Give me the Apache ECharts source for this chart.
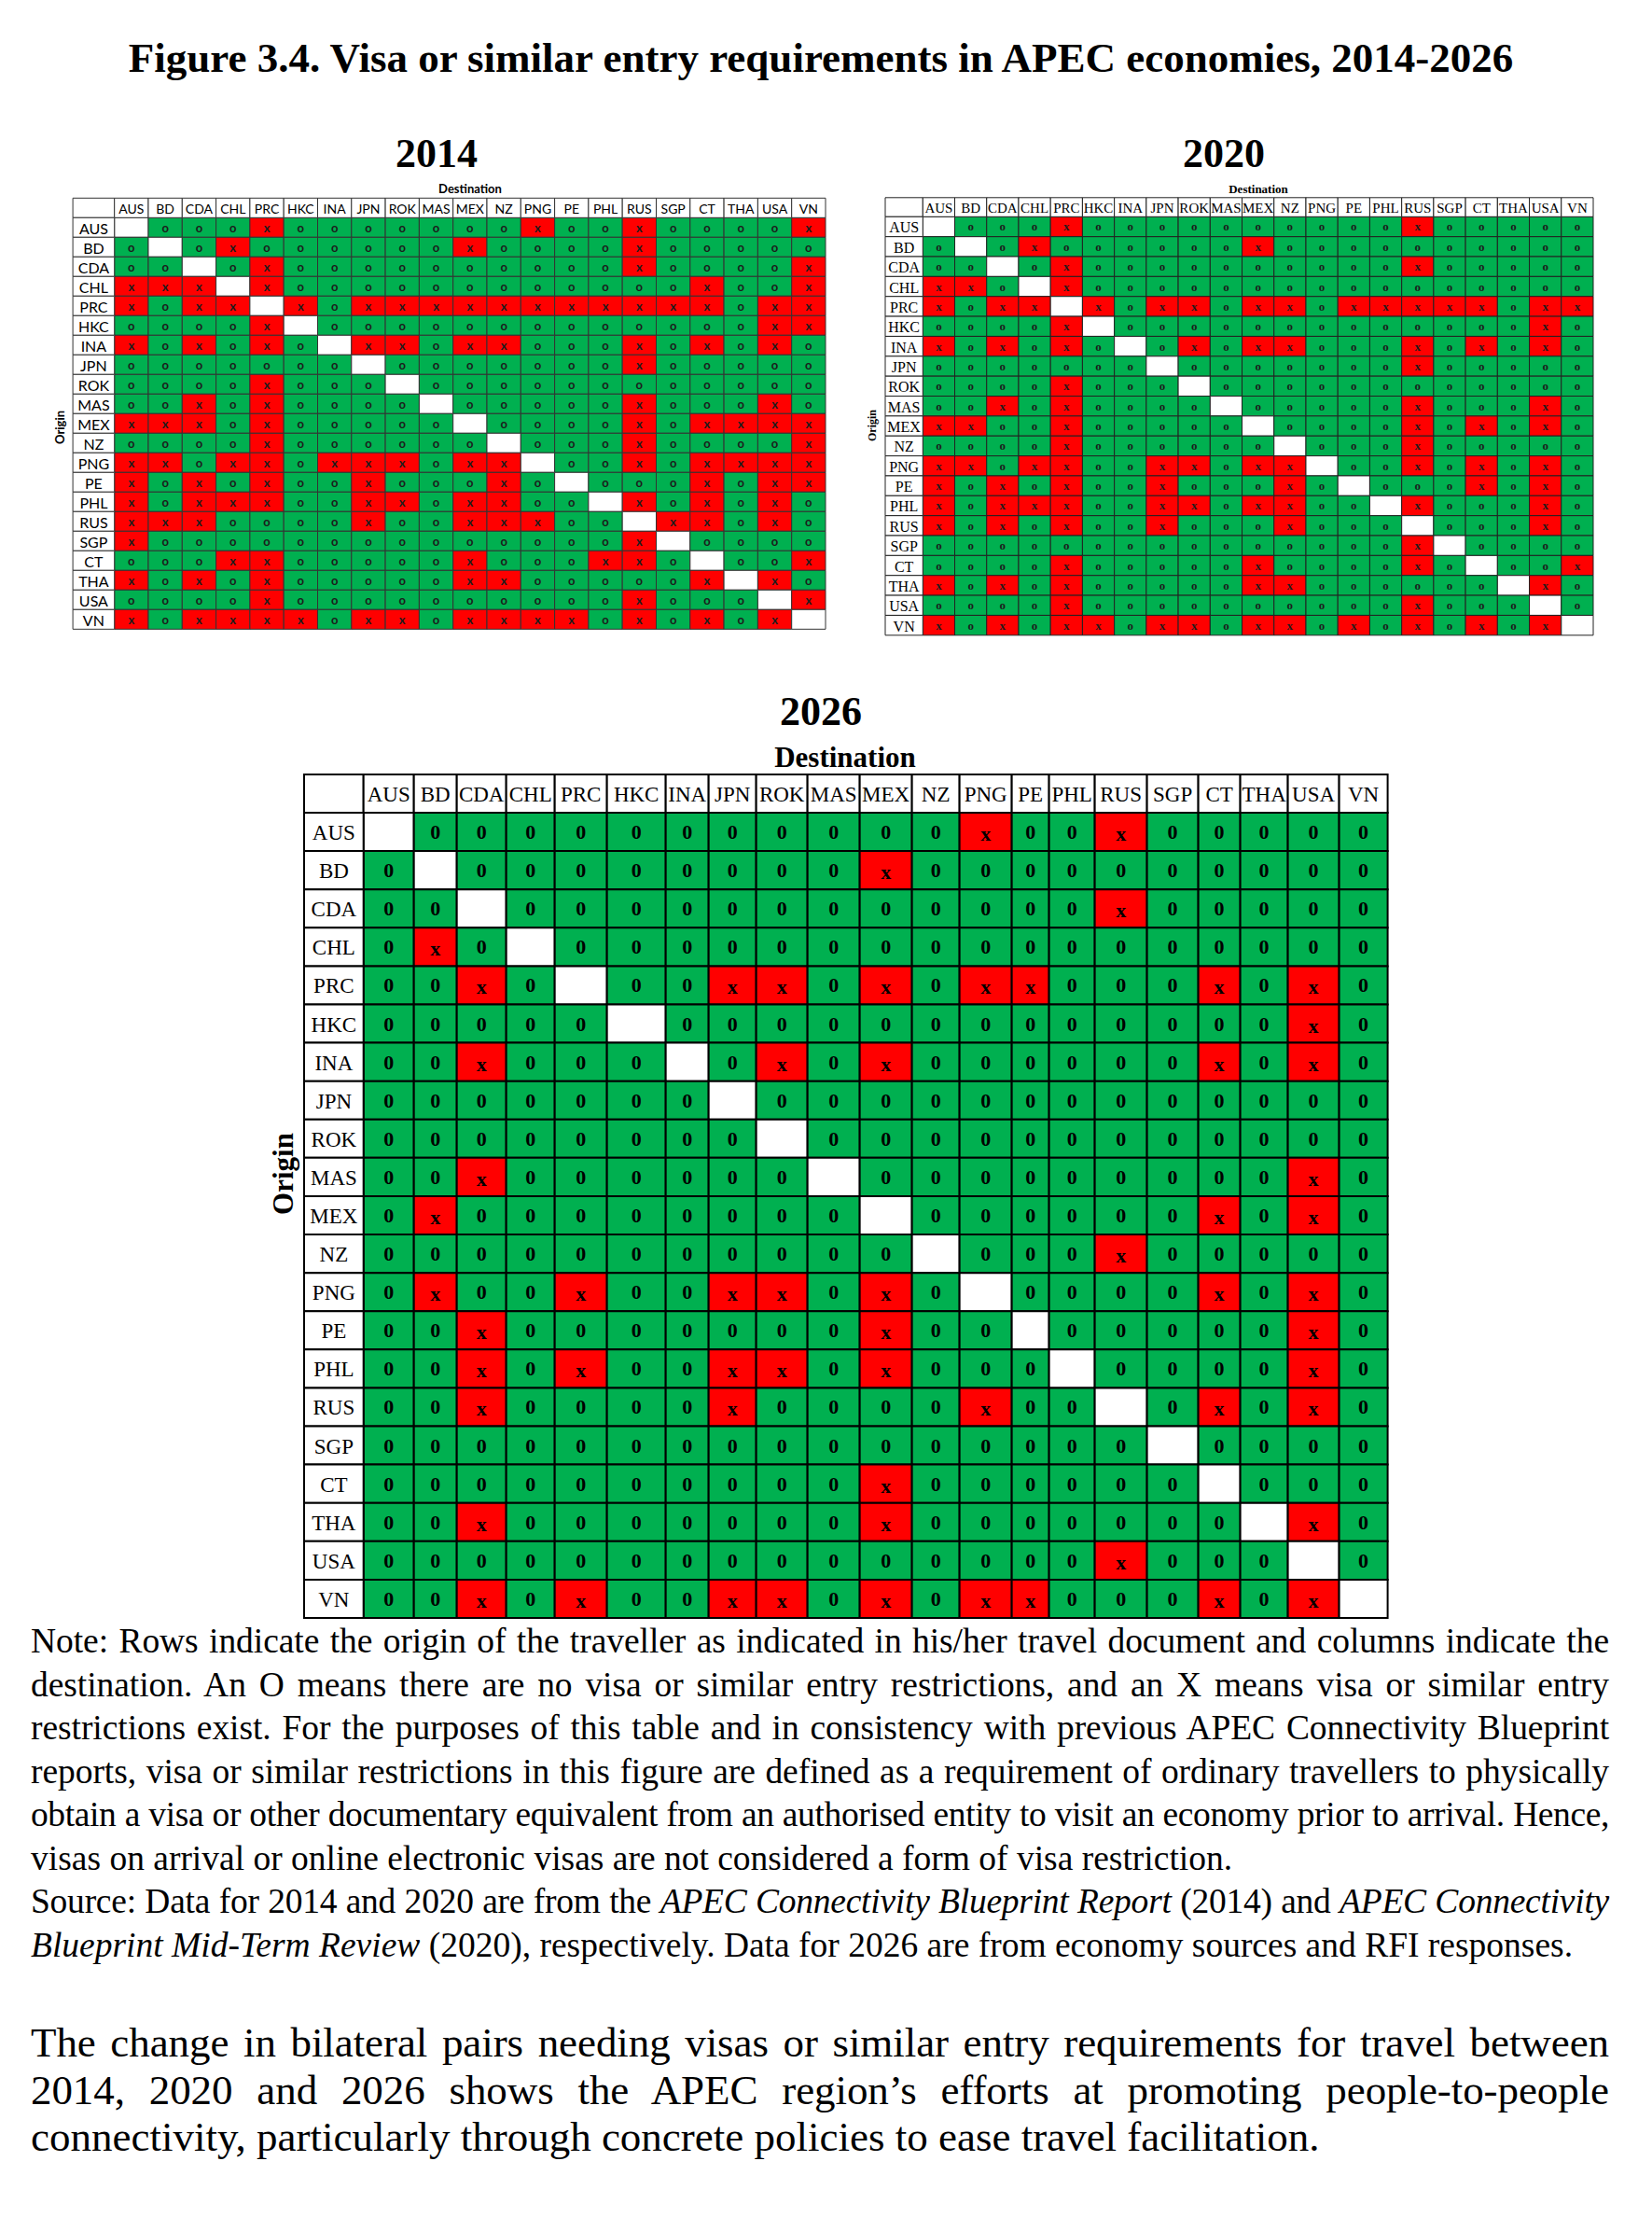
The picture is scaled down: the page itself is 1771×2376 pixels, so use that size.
<!DOCTYPE html>
<html>
<head>
<meta charset="utf-8">
<title>Figure 3.4. Visa or similar entry requirements in APEC economies, 2014-2026</title>
<script src="https://cdn.jsdelivr.net/npm/echarts@6.0.0/dist/echarts.min.js"></script>
<style>
  body { margin: 0; background: #fff; }
  #chart { position: absolute; left: 0; top: 0; width: 1771px; height: 1740px; }
  .para { position: absolute; left: 33px; width: 1692px; font-family: "Liberation Serif", "Times New Roman", serif; color: #000; }
  .para div { text-align: justify; text-align-last: justify; }
  .para div.last { text-align-last: left; }
</style>
</head>
<body>
<div id="chart"></div>

<div class="para" style="top:1736px; font-size:37.5px; line-height:46.5px;">
  <div>Note: Rows indicate the origin of the traveller as indicated in his/her travel document and columns indicate the</div>
  <div>destination. An O means there are no visa or similar entry restrictions, and an X means visa or similar entry</div>
  <div>restrictions exist. For the purposes of this table and in consistency with previous APEC Connectivity Blueprint</div>
  <div>reports, visa or similar restrictions in this figure are defined as a requirement of ordinary travellers to physically</div>
  <div>obtain a visa or other documentary equivalent from an authorised entity to visit an economy prior to arrival. Hence,</div>
  <div class="last">visas on arrival or online electronic visas are not considered a form of visa restriction.</div>
  <div>Source: Data for 2014 and 2020 are from the <i>APEC Connectivity Blueprint Report</i> (2014) and <i>APEC Connectivity</i></div>
  <div class="last"><i>Blueprint Mid-Term Review</i> (2020), respectively. Data for 2026 are from economy sources and RFI responses.</div>
</div>

<div class="para" style="top:2164px; font-size:45px; line-height:50.7px;">
  <div>The change in bilateral pairs needing visas or similar entry requirements for travel between</div>
  <div>2014, 2020 and 2026 shows the APEC region’s efforts at promoting people-to-people</div>
  <div class="last">connectivity, particularly through concrete policies to ease travel facilitation.</div>
</div>

<script>
// economies, same order for origin (rows) and destination (columns)
var economies = ['AUS', 'BD', 'CDA', 'CHL', 'PRC', 'HKC', 'INA', 'JPN', 'ROK', 'MAS', 'MEX',
                 'NZ', 'PNG', 'PE', 'PHL', 'RUS', 'SGP', 'CT', 'THA', 'USA', 'VN'];

// one string per origin row, one letter per destination column
// o = no visa, x = visa or similar required, - = own economy
var visa2014 = [
  '-oooxooooo ooxooxoooox',
  'o-oxoooooo xooooxooooo',
  'oo-oxooooo oooooxoooox',
  'xxx-xooooo oooooooxoox',
  'xoxx-xoxxx xxxxxxxxoxx',
  'oooox-oooo oooooooooxx',
  'xoxoxo-xxo xxoooxoxoxo',
  'ooooooo-oo oooooxooooo',
  'ooooxooo-o ooooooooooo',
  'ooxoxoooo- oooooxoooxo',
  'xxxoxooooo -ooooxoxxxx',
  'ooooxooooo o-oooxoooox',
  'xxoxxoxxxo xx-ooxoxxxx',
  'xoxoxooxoo oxo-oooxoxx',
  'xoxxxooxxo xxoo-xoxoxo',
  'xxxooooxoo xxxoo-xxoxo',
  'xooooooooo ooooox-oooo',
  'oooxxooooo xoooxxo-oox',
  'xoxoxooooo xxooooox-xo',
  'ooooxooooo oooooxooo-x',
  'xoxxxxoxxo xxxxoxoxox-'
];

var visa2020 = [
  '-oooxooooo oooooxooooo',
  'o-oxoooooo xoooooooooo',
  'oo-oxooooo oooooxooooo',
  'xxo-xooooo ooooooooooo',
  'xoxx-xoxxo xxoxxxxxoxx',
  'oooox-oooo oooooooooxo',
  'xoxoxo-oxo xxoooxoxoxo',
  'ooooooo-oo oooooxooooo',
  'ooooxooo-o ooooooooooo',
  'ooxoxoooo- oooooxoooxo',
  'xxooxooooo -ooooxoxoxo',
  'ooooxooooo o-oooxooooo',
  'xxoxxooxxo xx-ooxoxoxo',
  'xoxoxooxoo oxo-oooxoxo',
  'xoxxxooxxo xxoo-xoooxo',
  'xoxoxooxoo oxooo-oooxo',
  'oooooooooo ooooox-oooo',
  'ooooxooooo xooooxo-oox',
  'xoxoxooooo xxoooooo-xo',
  'ooooxooooo oooooxooo-o',
  'xoxoxxoxxo xxoxoxoxox-'
];

var visa2026 = [
  '-ooooooooo ooxooxooooo',
  'o-oooooooo xoooooooooo',
  'oo-ooooooo oooooxooooo',
  'oxo-oooooo ooooooooooo',
  'ooxo-ooxxo xoxxoooxoxo',
  'ooooo-oooo oooooooooxo',
  'ooxooo-oxo xooooooxoxo',
  'ooooooo-oo ooooooooooo',
  'oooooooo-o ooooooooooo',
  'ooxoooooo- oooooooooxo',
  'oxoooooooo -ooooooxoxo',
  'oooooooooo o-oooxooooo',
  'oxooxooxxo xo-ooooxoxo',
  'ooxooooooo xoo-oooooxo',
  'ooxoxooxxo xooo-ooooxo',
  'ooxooooxoo ooxoo-oxoxo',
  'oooooooooo oooooo-oooo',
  'oooooooooo xoooooo-ooo',
  'ooxooooooo xooooooo-xo',
  'oooooooooo oooooxooo-o',
  'ooxoxooxxo xoxxoooxox-'
];

var CODES = { o: 0, x: 1, '-': 2 };
var FILLS = ['#00B050', '#FF0000', '#FFFFFF'];
var SERIF = '"Liberation Serif"';

// relative column widths of each table (the 2026 table is a word-processor table with uneven columns)
var evenCols = economies.map(function () { return 1; });
var cols2026 = [54, 46, 53, 52, 56, 63, 46, 51, 55, 56, 56, 51, 56, 40, 49, 56, 55, 45, 51, 55, 52];

var tables = [
  { rows: visa2014, colW: evenCols, left: 122.7, top: 233.3, width: 762.3, height: 441, headH: 21, labW: 44.6,
    line: '#333', lineW: 1, zero: 'o', xShift: 0,
    headFont: '14px Lato', labFont: '16px Lato', markFont: 'bold 13px Lato', markColor: '#1c1c1c' },
  { rows: visa2020, colW: evenCols, left: 989.3, top: 232.3, width: 718.7, height: 448.5, headH: 20.5, labW: 40.3,
    line: '#222', lineW: 1, zero: 'o', xShift: 0,
    headFont: '15px ' + SERIF, labFont: '16px ' + SERIF, markFont: 'bold 13px ' + SERIF, markColor: '#1c1c1c' },
  { rows: visa2026, colW: cols2026, left: 389.7, top: 871, width: 1097.9, height: 863, headH: 41, labW: 63.7,
    line: '#000', lineW: 2, zero: '0', xShift: 2,
    headFont: '23px ' + SERIF, labFont: '23px ' + SERIF, markFont: 'bold 22px ' + SERIF, markColor: '#000' }
];

tables.forEach(function (t) {
  t.edges = [0];
  t.colW.forEach(function (w, i) { t.edges.push(t.edges[i] + w); });
});

function cellData(rows) {
  var out = [];
  rows.forEach(function (row, r) {
    var marks = row.replace(/ /g, '');
    if (marks.length !== economies.length) {
      throw new Error('row ' + r + ' has ' + marks.length + ' cells');
    }
    for (var c = 0; c < marks.length; c++) {
      out.push([c, r, CODES[marks[c]]]);
    }
  });
  return out;
}

function textEl(x, y, text, font, fill) {
  return {
    type: 'text', x: x, y: y,
    style: { text: text, font: font, fill: fill,
             align: 'center', verticalAlign: 'middle',
             textAlign: 'center', textVerticalAlign: 'middle' }
  };
}

function boxEl(x, y, w, h, fill, t) {
  return {
    type: 'rect',
    shape: { x: x, y: y, width: w, height: h },
    style: { fill: fill, stroke: t.line, lineWidth: t.lineW }
  };
}

// pixel box of column c, row r
function cellBox(t, api, c, r) {
  var a = api.coord([t.edges[c], r]);
  var b = api.coord([t.edges[c + 1], r]);
  var h = api.size([0, 1])[1];
  return { x: a[0], y: a[1] - h / 2, w: b[0] - a[0], h: h };
}

function cellRenderer(t) {
  return function (params, api) {
    var v = api.value(2);
    var b = cellBox(t, api, api.value(0), api.value(1));
    var children = [boxEl(b.x, b.y, b.w, b.h, FILLS[v], t)];
    if (v !== 2) {
      children.push(textEl(b.x + b.w / 2, b.y + b.h / 2 + (v === 1 ? t.xShift : 0),
                           v === 1 ? 'x' : t.zero, t.markFont, t.markColor));
    }
    return { type: 'group', children: children };
  };
}

function headRenderer(t) {
  return function (params, api) {
    var b = cellBox(t, api, api.value(0), 0);
    var top = b.y - t.headH;
    var children = [
      boxEl(b.x, top, b.w, t.headH, '#fff', t),
      textEl(b.x + b.w / 2, top + t.headH / 2 + 1, economies[params.dataIndex], t.headFont, '#000')
    ];
    if (params.dataIndex === 0) {
      children.unshift(boxEl(b.x - t.labW, top, t.labW, t.headH, '#fff', t));
    }
    return { type: 'group', children: children };
  };
}

function labelRenderer(t) {
  return function (params, api) {
    var b = cellBox(t, api, 0, api.value(1));
    var left = b.x - t.labW;
    return {
      type: 'group',
      children: [
        boxEl(left, b.y, t.labW, b.h, '#fff', t),
        textEl(left + t.labW / 2, b.y + b.h / 2 + 1, economies[params.dataIndex], t.labFont, '#000')
      ]
    };
  };
}

var grids = [], xAxes = [], yAxes = [], series = [];
tables.forEach(function (t, k) {
  grids.push({ left: t.left, top: t.top, width: t.width, height: t.height });
  xAxes.push({ type: 'value', gridIndex: k, min: 0, max: t.edges[t.edges.length - 1], show: false });
  yAxes.push({ type: 'category', gridIndex: k, data: economies, inverse: true, show: false });
  series.push({
    type: 'custom', xAxisIndex: k, yAxisIndex: k, silent: true,
    data: cellData(t.rows), renderItem: cellRenderer(t)
  });
  series.push({
    type: 'custom', xAxisIndex: k, yAxisIndex: k, silent: true,
    data: economies.map(function (e, i) { return [i, 0]; }), renderItem: headRenderer(t)
  });
  series.push({
    type: 'custom', xAxisIndex: k, yAxisIndex: k, silent: true,
    data: economies.map(function (e, i) { return [0, i]; }), renderItem: labelRenderer(t)
  });
});

function label(x, y, text, font, rotate) {
  return {
    type: 'text', x: x, y: y, rotation: rotate ? Math.PI / 2 : 0, silent: true,
    style: { text: text, font: font, fill: '#000',
             align: 'center', verticalAlign: 'middle',
             textAlign: 'center', textVerticalAlign: 'middle' }
  };
}

var option = {
  animation: false,
  backgroundColor: '#fff',
  grid: grids,
  xAxis: xAxes,
  yAxis: yAxes,
  series: series,
  graphic: [
    label(880, 62, 'Figure 3.4. Visa or similar entry requirements in APEC economies, 2014-2026', 'bold 45px ' + SERIF),
    label(468, 164, '2014', 'bold 44px ' + SERIF),
    label(1312, 164, '2020', 'bold 44px ' + SERIF),
    label(880, 762, '2026', 'bold 44px ' + SERIF),
    label(504, 202, 'Destination', 'bold 13px Lato'),
    label(64, 458, 'Origin', 'bold 13px Lato', true),
    label(1349, 202, 'Destination', 'bold 13px ' + SERIF),
    label(935, 456, 'Origin', 'bold 12px ' + SERIF, true),
    label(906, 811, 'Destination', 'bold 31px ' + SERIF),
    label(303, 1258, 'Origin', 'bold 31px ' + SERIF, true)
  ]
};

var chart = echarts.init(document.getElementById('chart'), null, { renderer: 'svg' });
chart.setOption(option);

// the printed note is set a little tighter than the installed serif: squeeze any line that would wrap
document.querySelectorAll('.para div').forEach(function (line) {
  var probe = document.createElement('span');
  probe.style.whiteSpace = 'nowrap';
  probe.innerHTML = line.innerHTML;
  line.innerHTML = '';
  line.appendChild(probe);
  var over = probe.getBoundingClientRect().width - line.clientWidth;
  line.innerHTML = probe.innerHTML;
  if (over > -2) {
    line.style.letterSpacing = (-(over + 6) / probe.textContent.length).toFixed(3) + 'px';
  }
});
</script>
</body>
</html>
